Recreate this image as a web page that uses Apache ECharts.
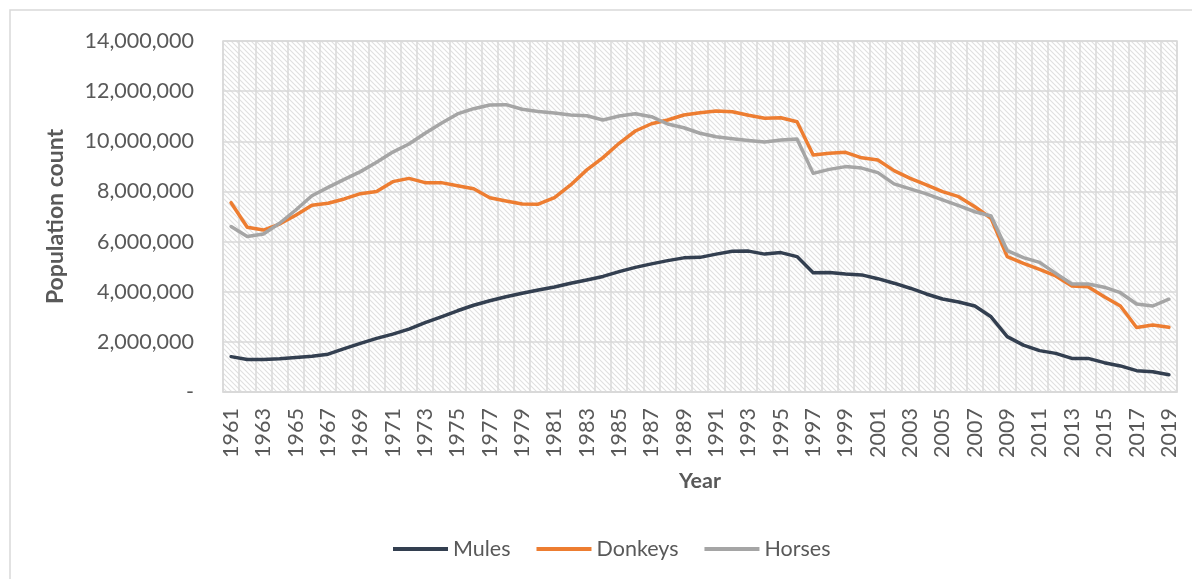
<!DOCTYPE html>
<html>
<head>
<meta charset="utf-8">
<script src="https://cdn.jsdelivr.net/npm/echarts@6/dist/echarts.min.js"></script>
<style>
    html, body {
        margin: 0;
        padding: 0;
        background: #fff;
    }
    #main {
        width: 1192px;
        height: 579px;
    }
</style>
</head>
<body>
<div id="main"></div>
<script type="text/javascript">
    // years 1961..2019
    var years = [];
    for (var y = 1961; y <= 2019; y++) years.push(String(y));

    var mules = [
        1410000, 1300000, 1300000, 1330000, 1380000, 1430000, 1510000, 1730000, 1940000, 2140000,
        2310000, 2510000, 2770000, 3000000, 3240000, 3460000, 3640000, 3800000, 3940000, 4070000,
        4190000, 4340000, 4470000, 4610000, 4800000, 4970000, 5110000, 5240000, 5350000, 5370000,
        5500000, 5610000, 5620000, 5500000, 5560000, 5400000, 4760000, 4770000, 4710000, 4670000,
        4520000, 4340000, 4140000, 3910000, 3710000, 3590000, 3430000, 3000000, 2210000, 1870000,
        1650000, 1540000, 1340000, 1340000, 1170000, 1040000, 850000, 810000, 690000
    ];
    var donkeys = [
        7550000, 6570000, 6460000, 6700000, 7050000, 7450000, 7530000, 7700000, 7910000, 8000000,
        8390000, 8520000, 8350000, 8350000, 8230000, 8110000, 7750000, 7620000, 7500000, 7490000,
        7750000, 8260000, 8860000, 9350000, 9920000, 10410000, 10700000, 10850000, 11050000, 11140000,
        11210000, 11180000, 11040000, 10920000, 10940000, 10780000, 9450000, 9520000, 9560000, 9340000,
        9250000, 8830000, 8520000, 8260000, 7990000, 7790000, 7390000, 6930000, 5400000, 5130000,
        4890000, 4630000, 4230000, 4200000, 3800000, 3430000, 2570000, 2670000, 2580000
    ];
    var horses = [
        6600000, 6200000, 6300000, 6730000, 7260000, 7830000, 8160000, 8480000, 8790000, 9160000,
        9570000, 9890000, 10320000, 10720000, 11090000, 11300000, 11450000, 11460000, 11280000, 11190000,
        11130000, 11050000, 11020000, 10850000, 11010000, 11100000, 10980000, 10690000, 10540000, 10320000,
        10180000, 10100000, 10030000, 9970000, 10050000, 10090000, 8720000, 8880000, 8990000, 8930000,
        8750000, 8300000, 8100000, 7900000, 7660000, 7430000, 7190000, 7020000, 5640000, 5360000,
        5170000, 4730000, 4310000, 4310000, 4180000, 3960000, 3510000, 3430000, 3700000
    ];

    // diagonal hatch like the excel plot area fill
    function hatch() {
        var n = 5;
        var c = document.createElement('canvas');
        c.width = n;
        c.height = n;
        var ctx = c.getContext('2d');
        ctx.fillStyle = '#ffffff';
        ctx.fillRect(0, 0, n, n);
        ctx.strokeStyle = '#e0e0e0';
        ctx.lineWidth = 1.1;
        ctx.beginPath();
        ctx.moveTo(-1, -1); ctx.lineTo(n + 1, n + 1);
        ctx.moveTo(-1, n - 1); ctx.lineTo(1, n + 1);
        ctx.moveTo(n - 1, -1); ctx.lineTo(n + 1, 1);
        ctx.stroke();
        return c;
    }

    var font = 'Lato, "Open Sans", sans-serif';
    var textColor = '#595959';
    var gridColor = '#d9d9d9';

    var myChart = echarts.init(document.getElementById('main'), null, {renderer: 'canvas'});

    var option = {
        animation: false,
        textStyle: {fontFamily: font},
        graphic: [{
            type: 'rect',
            shape: {x: 10, y: 10, width: 1200, height: 600},
            style: {fill: 'none', stroke: '#d9d9d9', lineWidth: 1.5},
            silent: true
        }],
        grid: {
            left: 223,
            right: 15,
            top: 41,
            bottom: 187,
            show: true,
            backgroundColor: {image: hatch(), repeat: 'repeat'},
            borderColor: gridColor,
            borderWidth: 1.5
        },
        legend: {
            top: 533,
            left: 388,
            icon: 'rect',
            itemWidth: 55,
            itemHeight: 4,
            itemGap: 26,
            textStyle: {fontFamily: font, fontSize: 21.5, color: textColor},
            data: ['Mules', 'Donkeys', 'Horses']
        },
        xAxis: {
            type: 'category',
            data: years,
            boundaryGap: true,
            name: 'Year',
            nameLocation: 'middle',
            nameGap: 78,
            nameTextStyle: {fontFamily: font, fontSize: 21.5, fontWeight: 'bold', color: textColor},
            axisLine: {lineStyle: {color: gridColor, width: 1.5}},
            axisTick: {show: false},
            axisLabel: {
                interval: 1,
                rotate: 90,
                margin: 16,
                fontFamily: font,
                fontSize: 21.5,
                color: textColor
            },
            splitLine: {show: true, interval: 0, lineStyle: {color: gridColor, width: 1.5}}
        },
        yAxis: {
            type: 'value',
            min: 0,
            max: 14000000,
            interval: 2000000,
            name: 'Population count',
            nameLocation: 'middle',
            nameGap: 156,
            nameRotate: 90,
            nameTextStyle: {fontFamily: font, fontSize: 23, fontWeight: 'bold', color: textColor},
            axisLine: {show: false},
            axisTick: {show: false},
            axisLabel: {
                margin: 29,
                fontFamily: font,
                fontSize: 21.5,
                color: textColor,
                formatter: function (v) {
                    return v === 0 ? '-' : v.toLocaleString('en-US');
                }
            },
            splitLine: {lineStyle: {color: gridColor, width: 1.5}}
        },
        series: [{
            name: 'Mules',
            type: 'line',
            data: mules,
            symbol: 'none',
            color: '#333f50',
            lineStyle: {width: 3.5, cap: 'round', join: 'round'}
        }, {
            name: 'Donkeys',
            type: 'line',
            data: donkeys,
            symbol: 'none',
            color: '#ed7d31',
            lineStyle: {width: 3.5, cap: 'round', join: 'round'}
        }, {
            name: 'Horses',
            type: 'line',
            data: horses,
            symbol: 'none',
            color: '#a5a5a5',
            lineStyle: {width: 3.5, cap: 'round', join: 'round'}
        }]
    };

    myChart.setOption(option);
</script>
</body>
</html>
